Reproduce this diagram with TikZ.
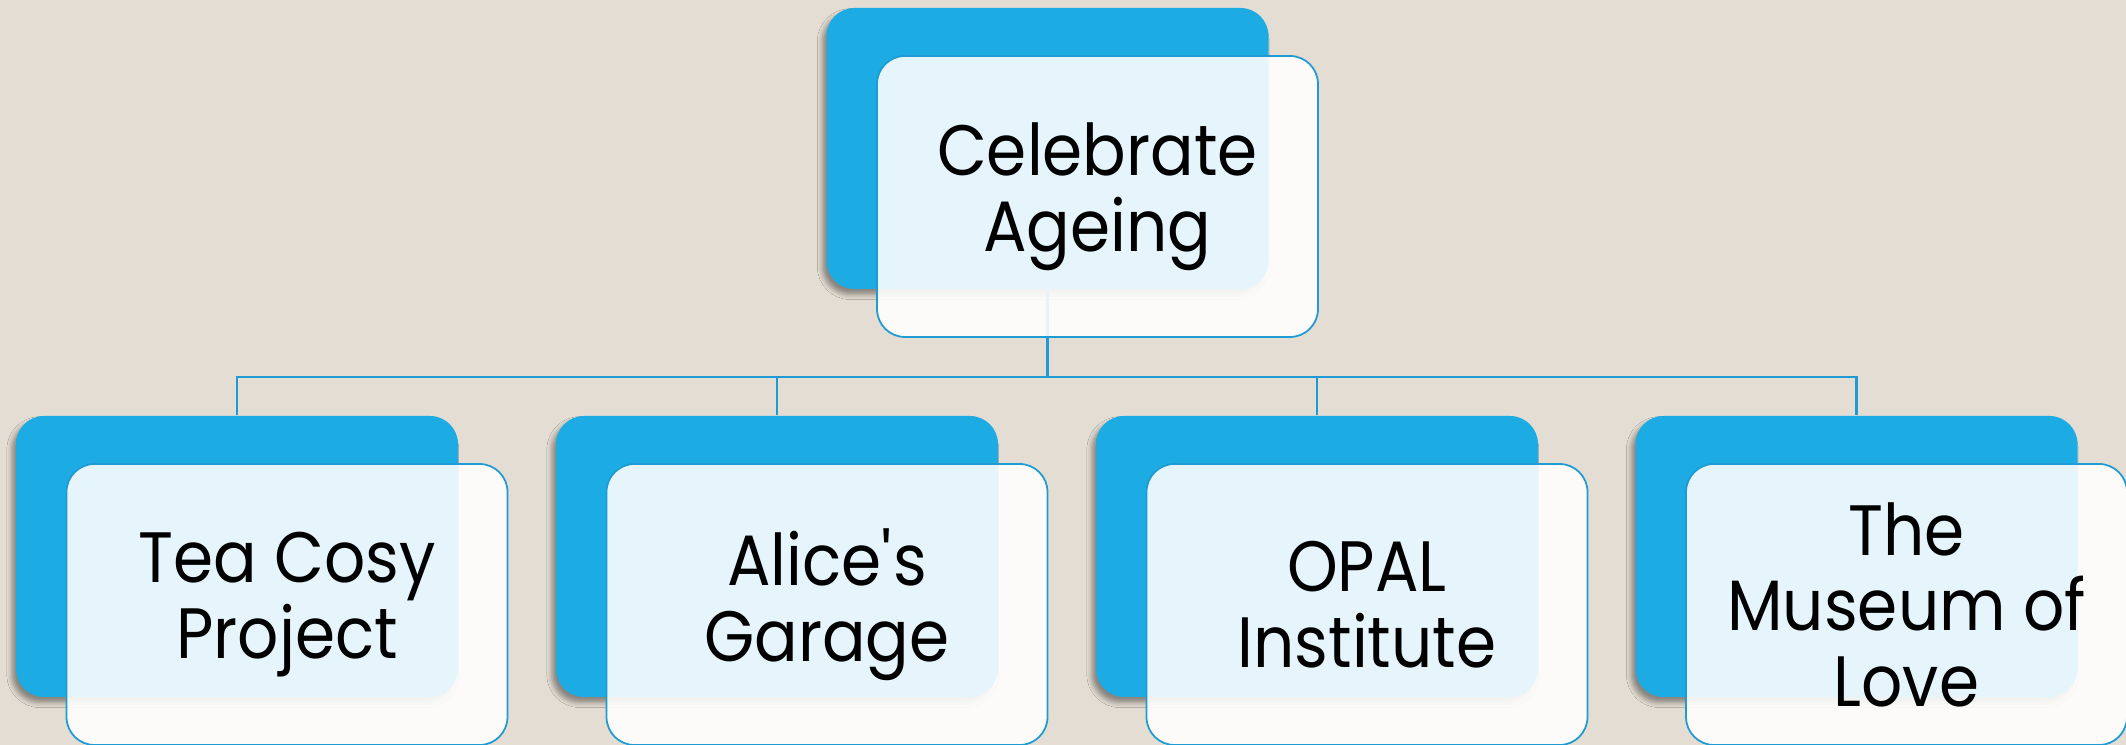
\documentclass[tikz,border=0pt]{standalone}
\usepackage{fontspec}
\setmainfont{Poppins}[FakeStretch=0.905]
\usetikzlibrary{shadows.blur}
\definecolor{bgbeige}{HTML}{E4DDD3}
\definecolor{boxblue}{HTML}{1CACE3}
\definecolor{lineblue}{HTML}{1E9BD2}
\tikzset{
  backbox/.style={fill=boxblue, rounded corners=0.28cm, minimum width=4.42cm,
    minimum height=2.81cm, inner sep=0pt,
    blur shadow={shadow xshift=-1.2pt, shadow yshift=-1.6pt, shadow blur radius=1.4pt, shadow opacity=40}},
  frontbox/.style={draw=lineblue, line width=0.5pt, fill=white, fill opacity=0.89,
    text opacity=1, rounded corners=0.28cm, minimum width=4.41cm, minimum height=2.81cm,
    inner sep=0pt, align=center, font=\fontsize{20.3}{21.5}\selectfont},
  link/.style={draw=lineblue, line width=0.6pt}
}
\begin{document}
\begin{tikzpicture}
\useasboundingbox (0,0) rectangle (21.26,7.45);
\fill [bgbeige] (0,0) rectangle (21.26,7.45);
% back cards
\node [backbox] (b0) at (10.475,5.965) {};
\foreach \i/\x in {1/2.37, 2/7.77, 3/13.17, 4/18.565}
  \node [backbox] (b\i) at (\x,1.885) {};
% tree lines
\foreach \i in {1,...,4}
  \draw [link] (b0.south) -- ++(0,-0.87) -| (b\i.north);
% front cards with the labels
\foreach \i/\t in {0/{Celebrate\\Ageing}, 1/{Tea Cosy\\Project}, 2/{Alice\textquotesingle s\\Garage},
    3/{OPAL\\Institute}, 4/{The\\Museum of\\Love}}
  \node [frontbox] (f\i) at ([xshift=0.5cm,yshift=-0.48cm]b\i.center) {\t};
\end{tikzpicture}
\end{document}
